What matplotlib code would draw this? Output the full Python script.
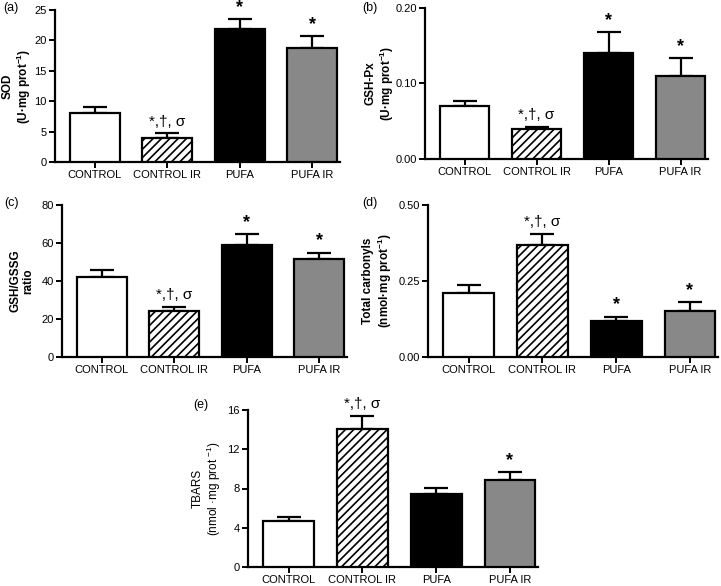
import matplotlib
matplotlib.use("Agg")
import matplotlib.pyplot as plt
import numpy as np

plt.rcParams['font.family'] = ['Liberation Sans', 'DejaVu Sans']
plt.rcParams['mathtext.fontset'] = 'custom'
plt.rcParams['mathtext.rm'] = 'Liberation Sans'
plt.rcParams['mathtext.bf'] = 'Liberation Sans:bold'
plt.rcParams['hatch.linewidth'] = 1.2

groups = ["CONTROL", "CONTROL IR", "PUFA", "PUFA IR"]
colors = ["white", "white", "black", "#888888"]
hatches = [None, "////", None, None]

sod = [8.0, 4.0, 21.8, 18.7]
sod_top = [9.0, 4.7, 23.5, 20.7]
gpx = [0.070, 0.040, 0.140, 0.110]
gpx_top = [0.077, 0.043, 0.168, 0.134]
gsh = [42.0, 24.0, 59.0, 51.5]
gsh_top = [46.0, 26.5, 64.5, 55.0]
carb = [0.21, 0.37, 0.12, 0.15]
carb_top = [0.238, 0.405, 0.133, 0.182]
tbars = [4.7, 14.1, 7.4, 8.9]
tbars_top = [5.1, 15.4, 8.1, 9.7]

sig_a = ["", "*,†, σ", "*", "*"]
sig_b = ["", "*,†, σ", "*", "*"]
sig_c = ["", "*,†, σ", "*", "*"]
sig_d = ["", "*,†, σ", "*", "*"]
sig_e = ["", "*,†, σ", "", "*"]

W, H = 721, 586
fig = plt.figure(figsize=(W / 100, H / 100), dpi=100)


def panel(l, r, t, b, vals, tops, yticks, ytl, ylabel, sigs, tag, tagpos, labx, bold=True):
    ax = fig.add_axes([l / W, 1 - b / H, (r - l) / W, (b - t) / H])
    x = np.arange(len(groups))
    for i in range(len(groups)):
        ax.bar(x[i], vals[i], width=0.69, color=colors[i], edgecolor="black",
               linewidth=1.6, hatch=hatches[i], zorder=3)
    err = np.array(tops) - np.array(vals)
    ax.errorbar(x, vals, yerr=[np.zeros(len(vals)), err], fmt="none", ecolor="black",
                elinewidth=1.6, capsize=8.5, capthick=1.6, zorder=2)
    ymax = yticks[-1]
    for i, s in enumerate(sigs):
        if s == "":
            continue
        if s == "*":
            ax.text(x[i], tops[i] + ymax * 0.02, s, ha="center", va="bottom",
                    fontsize=13, fontweight="bold")
        else:
            ax.text(x[i], tops[i] + ymax * 0.03, s, ha="center", va="bottom",
                    fontsize=11)
    ax.set_xlim(-0.55, 3.38)
    ax.set_ylim(0, ymax)
    ax.set_yticks(yticks)
    ax.set_yticklabels(ytl, fontsize=8)
    ax.set_xticks(x)
    ax.set_xticklabels(groups, fontsize=8)
    ax.spines["top"].set_visible(False)
    ax.spines["right"].set_visible(False)
    ax.spines["left"].set_linewidth(1.6)
    ax.spines["bottom"].set_linewidth(1.6)
    ax.tick_params(width=1.4, length=4, pad=2)
    ax.set_ylabel(ylabel, fontsize=8.5, fontweight="bold" if bold else "normal",
                  linespacing=1.1)
    ax.yaxis.set_label_coords((labx - l) / (r - l), 0.5)
    fig.text(tagpos[0] / W, 1 - tagpos[1] / H, tag, fontsize=9, ha="left", va="top")
    return ax


panel(55, 340, 10, 162, sod, sod_top, [0, 5, 10, 15, 20, 25],
      ["0", "5", "10", "15", "20", "25"],
      "SOD\n(U·mg prot$^{\\mathbf{-1}}$)", sig_a, "(a)", (3, 2), 33)
panel(425, 708, 8, 159, gpx, gpx_top, [0, 0.10, 0.20],
      ["0.00", "0.10", "0.20"],
      "GSH-Px\n(U·mg prot$^{\\mathbf{-1}}$)", sig_b, "(b)", (362, 2), 396)
panel(62, 347, 205, 357, gsh, gsh_top, [0, 20, 40, 60, 80],
      ["0", "20", "40", "60", "80"],
      "GSH/GSSG\nratio", sig_c, "(c)", (4, 197), 34)
panel(428, 718, 205, 357, carb, carb_top, [0, 0.25, 0.50],
      ["0.00", "0.25", "0.50"],
      "Total carbonyls\n(nmol·mg prot$^{\\mathbf{-1}}$)", sig_d, "(d)", (362, 197), 394)
panel(248, 538, 410, 567, tbars, tbars_top, [0, 4, 8, 12, 16],
      ["0", "4", "8", "12", "16"],
      "TBARS\n(nmol ·mg prot $^{-1}$)", sig_e, "(e)", (193, 399), 223, bold=False)

fig.savefig("out.png", dpi=100)
